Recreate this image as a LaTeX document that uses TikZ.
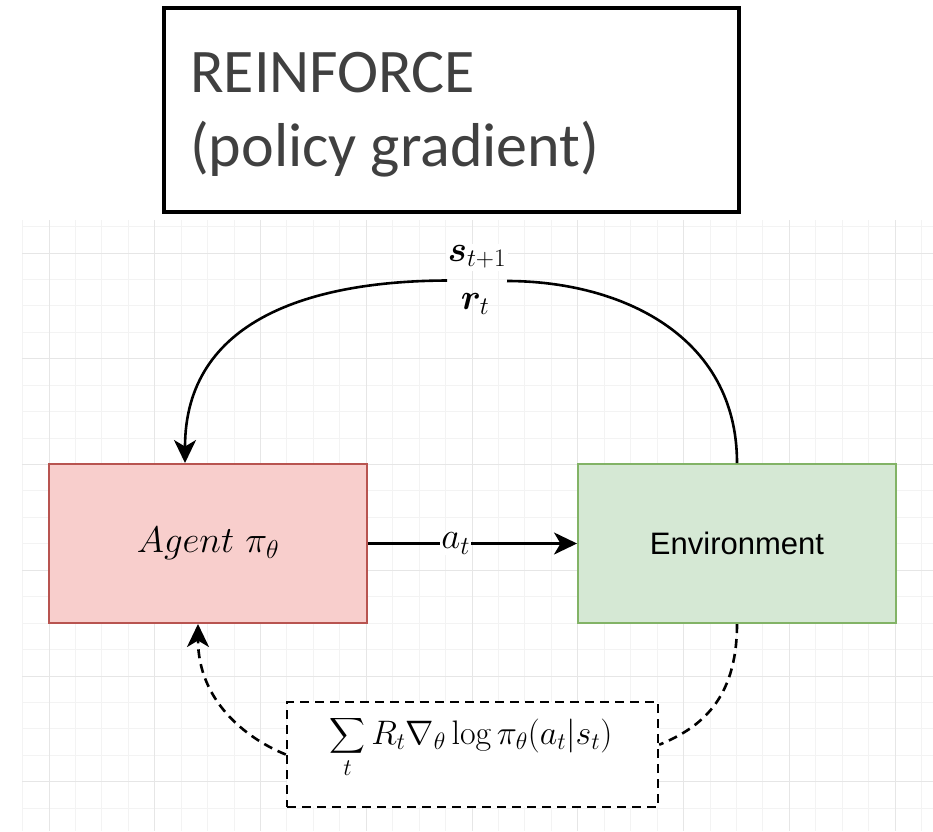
\RequirePackage{fix-cm}
\documentclass[tikz,border=0pt]{standalone}
\usepackage{amsmath}
\usepackage{fontspec}
\usepackage{bm}
\newfontfamily\titlefont{Carlito}
\newfontfamily\boxfont{Liberation Sans}
\usetikzlibrary{arrows.meta,calc}

\definecolor{agentfill}{HTML}{F8CECC}
\definecolor{agentline}{HTML}{B85450}
\definecolor{envfill}{HTML}{D5E8D4}
\definecolor{envline}{HTML}{82B366}
\definecolor{titleink}{HTML}{404040}
\definecolor{gridminor}{HTML}{F3F3F3}
\definecolor{gridmajor}{HTML}{E6E6E6}

\tikzset{
  minorline/.style={draw=gridminor, line width=1pt},
  majorline/.style={draw=gridmajor, line width=1pt},
  titlebox/.style={draw=black, line width=4pt, minimum width=575, minimum height=204, inner sep=0},
  titletext/.style={font=\titlefont\fontsize{62}{75}\selectfont, text=titleink, inner sep=0},
  agentbox/.style={draw=agentline, fill=agentfill, line width=2pt, minimum width=318, minimum height=159},
  envbox/.style={draw=envline, fill=envfill, line width=2pt, minimum width=318, minimum height=159,
    font=\boxfont\fontsize{31}{37}\selectfont},
  sumbox/.style={draw=black, dash pattern=on 9pt off 6pt, line width=2.4pt, minimum width=371, minimum height=105, fill=white},
  mathlbl/.style={font=\fontsize{36}{43}\selectfont, inner sep=2pt},
  tip/.style={-{Stealth[length=23pt,width=22pt,inset=6.5pt]}},
  flow/.style={draw=black, line width=2.6pt, tip},
  dflow/.style={draw=black, line width=2.6pt, dash pattern=on 9pt off 6pt, tip},
  plainflow/.style={draw=black, line width=2.6pt},
  dplainflow/.style={draw=black, line width=2.6pt, dash pattern=on 9pt off 6pt},
}

\begin{document}
\begin{tikzpicture}[x=1pt,y=-1pt]
\useasboundingbox (0,0) rectangle (933,831);

% background grid
\begin{scope}
  \clip (22,220) rectangle (933,831);
  \foreach \i in {-1,...,33} \draw[minorline] ({49+26.44*\i},220) -- ++(0,611);
  \foreach \i in {-1,...,22} \draw[minorline] (22,{253+26.44*\i}) -- ++(911,0);
  \foreach \i in {0,...,8} \draw[majorline] ({49+105.76*\i},220) -- ++(0,611);
  \foreach \i in {0,...,5} \draw[majorline] (22,{253+105.76*\i}) -- ++(911,0);
\end{scope}

% title
\node[titlebox] (title) at (451.5,110) {};
\node[titletext, anchor=base west] (title1) at (190,92) {REINFORCE};
\node[titletext, anchor=base west] (title2) at (190,166) {(policy gradient)};

% agent and environment
\node[agentbox] (agent) at (208,543.5) {\fontsize{37}{44}\selectfont$Agent\ \pi_\theta$};
\node[envbox] (env) at (737,543.5) {Environment};

% action
\draw[flow] (agent.east) -- node[pos=0.42, fill=white, inner sep=1pt, font=\fontsize{37}{44}\selectfont] (act) {$a_t$} (env.west);

% state and reward feedback
\coordinate (gapR) at (507,281);
\coordinate (gapL) at (447,280.5);
\draw[plainflow] (env.north) .. controls (737,335) and (620,281) .. (gapR);
\draw[flow] (gapL) .. controls (310,281) and ([xshift=-23pt]agent.north |- 0,320) .. ([xshift=-23pt]agent.north);
\node[mathlbl, fill=white] (state) at (477,257) {$\bm{s}_{t+1}$};
\node[mathlbl] (reward) at (475,304) {$\bm{r}_t$};

% gradient estimate
\node[sumbox] (grad) at (472.5,754.5) {};
\node[font=\fontsize{34}{40}\selectfont, inner sep=0] (gradtext) at (471,747) {$\displaystyle\sum_t R_t \nabla_\theta \log \pi_\theta(a_t|s_t)$};
\draw[dplainflow] (env.south) .. controls (737,700) and (700,728) .. (grad.3);
\draw[dflow] (grad.west) .. controls (245,738) and ([xshift=-10pt]agent.south |- 0,700) .. ([xshift=-10pt]agent.south);
\end{tikzpicture}
\end{document}
